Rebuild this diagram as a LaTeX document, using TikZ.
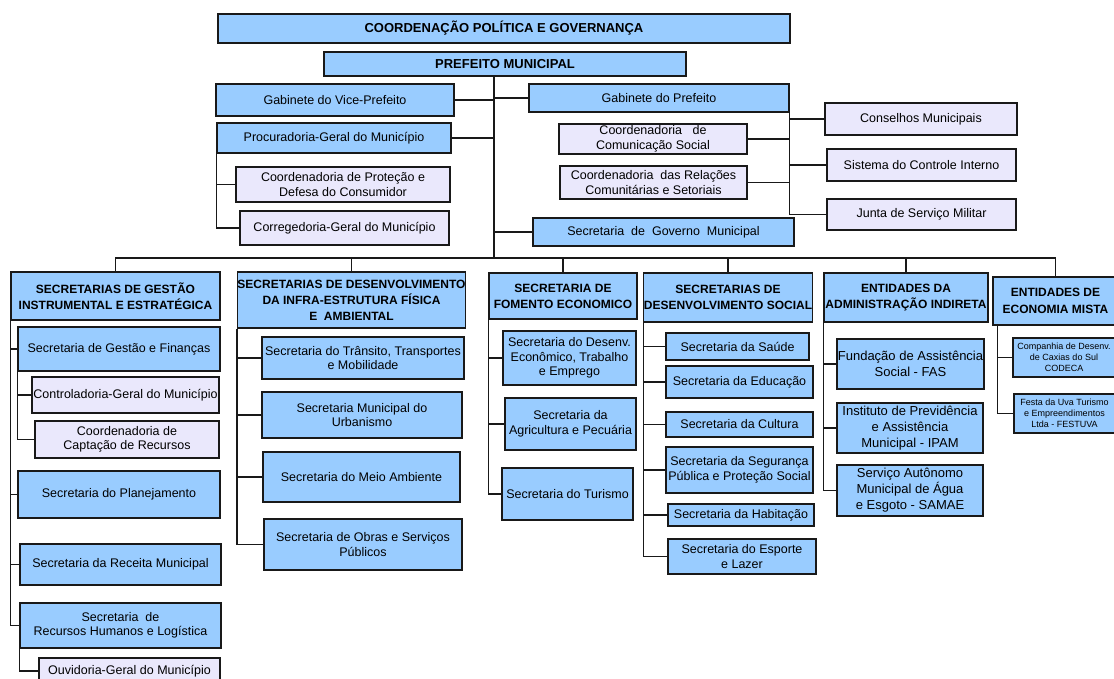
\documentclass[tikz,border=0pt]{standalone}
\usepackage{fontspec}
\setmainfont{Liberation Sans}
\usetikzlibrary{positioning}
\definecolor{boxblue}{RGB}{153,204,255}
\definecolor{boxlilac}{RGB}{234,232,252}

\begin{document}
\begin{tikzpicture}[x=1pt,y=-1pt,
unit/.style={
rectangle,
draw=black!90,
line width=1.2pt,
fill=boxblue,
inner sep=0pt,
align=center,
font=\fontsize{12.5}{14.5}\selectfont
},
sub/.style={unit,fill=boxlilac},
head/.style={unit,font=\fontsize{12}{16}\selectfont\bfseries},
wh/.style 2 args={minimum width=#1pt,minimum height=#2pt},
link/.style={line width=1.3pt,black!90},
]
\useasboundingbox (0,0) rectangle (1114,678);

\node (coord) [head,wh={572}{29},font=\fontsize{13}{15}\selectfont\bfseries] at (504,28.5) {COORDENAÇÃO POLÍTICA E GOVERNANÇA};
\node (pref) [head,wh={362}{24},font=\fontsize{13}{15}\selectfont\bfseries] at (505,64) {PREFEITO MUNICIPAL};
\node (vice) [unit,wh={238}{32}] at (335,100) {Gabinete do Vice-Prefeito};
\node (proc) [unit,wh={234}{30}] at (334,138) {Procuradoria-Geral do Município};
\node (cpdc) [sub,wh={214}{35}] at (343,184.5) {Coordenadoria de Proteção e\\Defesa do Consumidor};
\node (corr) [sub,wh={209}{34}] at (344.5,228) {Corregedoria-Geral do Município};
\node (gab) [unit,wh={260}{28}] at (659,98) {Gabinete do Prefeito};
\node (comsoc) [sub,wh={188}{30}] at (653,139) {Coordenadoria \ \ de\\Comunicação Social};
\node (relcom) [sub,wh={187}{33}] at (653.5,182.5) {Coordenadoria \ das Relações\\Comunitárias e Setoriais};
\node (gov) [unit,wh={261}{28}] at (663.5,232) {Secretaria \ de \ Governo \ Municipal};
\node (cons) [sub,wh={192}{32}] at (921,119) {Conselhos Municipais};
\node (sci) [sub,wh={189}{32}] at (921.5,165) {Sistema do Controle Interno};
\node (jsm) [sub,wh={189}{31}] at (921.5,214.5) {Junta de Serviço Militar};

\node (h1) [head,wh={209}{48}] at (115.5,296) {SECRETARIAS DE GESTÃO\\INSTRUMENTAL E ESTRATÉGICA};
\node (sgf) [unit,wh={202}{44}] at (119,349) {Secretaria de Gestão e Finanças};
\node (cgm) [sub,wh={187}{36}] at (125.5,395) {Controladoria-Geral do Município};
\node (ccr) [sub,wh={184}{37}] at (127,439.5) {Coordenadoria de\\Captação de Recursos};
\node (spl) [unit,wh={202}{47}] at (119,494.5) {Secretaria do Planejamento};
\node (srm) [unit,wh={201}{41}] at (120.5,564.5) {Secretaria da Receita Municipal};
\node (srh) [unit,wh={201}{45}] at (120.5,625.5) {Secretaria \ de\\Recursos Humanos e Logística};
\node (ouv) [sub,wh={181}{26}] at (129.5,671) {Ouvidoria-Geral do Município};

\node (h2) [head,wh={225}{56}] at (351.5,300) {SECRETARIAS DE DESENVOLVIMENTO\\DA INFRA-ESTRUTURA FÍSICA\\E \ AMBIENTAL};
\node (stt) [unit,wh={202}{42}] at (363,358) {Secretaria do Trânsito, Transportes\\e Mobilidade};
\node (smu) [unit,wh={200}{46}] at (362,415) {Secretaria Municipal do\\Urbanismo};
\node (sma) [unit,wh={197}{50}] at (361.5,477) {Secretaria do Meio Ambiente};
\node (sos) [unit,wh={198}{51}] at (363,544.5) {Secretaria de Obras e Serviços\\Públicos};

\node (h3) [head,wh={148}{46}] at (563,296) {SECRETARIA DE\\FOMENTO ECONOMICO};
\node (sde) [unit,wh={133}{54}] at (569.5,358) {Secretaria do Desenv.\\Econômico, Trabalho\\e Emprego};
\node (sap) [unit,wh={131}{52}] at (570.5,424) {Secretaria da\\Agricultura e Pecuária};
\node (stu) [unit,wh={131}{52}] at (567.5,494) {Secretaria do Turismo};

\node (h4) [head,wh={168}{49}] at (728,297.5) {SECRETARIAS DE\\DESENVOLVIMENTO SOCIAL};
\node (ssa) [unit,wh={143}{27}] at (737.5,346.5) {Secretaria da Saúde};
\node (sed) [unit,wh={147}{32}] at (739.5,382) {Secretaria da Educação};
\node (scu) [unit,wh={147}{25}] at (739.5,424.5) {Secretaria da Cultura};
\node (ssp) [unit,wh={147}{46}] at (739.5,470) {Secretaria da Segurança\\Pública e Proteção Social};
\node (sha) [unit,wh={146}{22}] at (741,515) {Secretaria da Habitação};
\node (sel) [unit,wh={148}{35}] at (742,556.5) {Secretaria do Esporte\\e Lazer};

\node (h5) [head,wh={164}{49}] at (906,297.5) {ENTIDADES DA\\ADMINISTRAÇÃO INDIRETA};
\node (fas) [unit,wh={147}{50},font=\fontsize{13}{16}\selectfont] at (910.5,364) {Fundação de Assistência\\Social - FAS};
\node (ipam) [unit,wh={146}{50},font=\fontsize{13}{16}\selectfont] at (910,428) {Instituto de Previdência\\e Assistência\\Municipal - IPAM};
\node (samae) [unit,wh={146}{51},font=\fontsize{13}{16}\selectfont] at (910,490.5) {Serviço Autônomo\\Municipal de Água\\e Esgoto - SAMAE};

\node (h6) [head,wh={125}{48},font=\fontsize{12}{17}\selectfont\bfseries] at (1055.5,301) {ENTIDADES DE\\ECONOMIA MISTA};
\node (codeca) [unit,wh={102}{39},font=\fontsize{9}{11}\selectfont] at (1064,357.5) {Companhia de Desenv.\\de Caxias do Sul\\CODECA};
\node (festuva) [unit,wh={101}{39},font=\fontsize{9}{11}\selectfont] at (1064.5,413.5) {Festa da Uva Turismo\\e Empreendimentos\\Ltda - FESTUVA};

\coordinate (bus) at (494,258);
\draw[link] (pref.south -| bus) -- (bus);
\draw[link] (vice.east) -- (vice.east -| bus);
\draw[link] (proc.east) -- (proc.east -| bus);
\draw[link] (gab.west) -- (gab.west -| bus);
\draw[link] (gov.west) -- (gov.west -| bus);
\draw[link] (proc.south west) |- (cpdc.west);
\draw[link] (proc.south west) |- (corr.west);
\foreach \k in {comsoc,relcom} \draw[link] (gab.south east) |- (\k.east);
\foreach \k in {cons,sci,jsm} \draw[link] (gab.south east) |- (\k.west);

\draw[link] (h1.north) |- (bus) -| (h6.north);
\foreach \k in {h2,h3,h4,h5} \draw[link] (\k.north) -- (\k.north |- bus);

\foreach \k in {sgf,spl,srm,srh} \draw[link] (h1.south west) |- (\k.west);
\foreach \k in {cgm,ccr} \draw[link] (sgf.south west) |- (\k.west);
\draw[link] (srh.south west) |- (ouv.west);
\foreach \k in {stt,smu,sma,sos} \draw[link] (h2.south west) |- (\k.west);
\foreach \k in {sde,sap,stu} \draw[link] (h3.south west) |- (\k.west);
\foreach \k in {ssa,sed,scu,ssp,sha,sel} \draw[link] (h4.south west) |- (\k.west);
\foreach \k in {fas,ipam,samae} \draw[link] (h5.south west) |- (\k.west);
\foreach \k in {codeca,festuva} \draw[link] ([xshift=5pt]h6.south west) |- (\k.west);
\end{tikzpicture}
\end{document}
